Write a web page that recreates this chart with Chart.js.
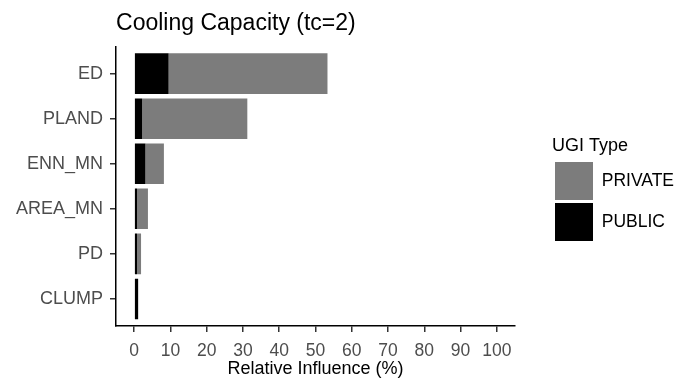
<!DOCTYPE html>
<html>
<head>
<meta charset="utf-8">
<script src="https://cdn.jsdelivr.net/npm/chart.js@4"></script>
<style>
  html, body { margin: 0; padding: 0; background: #ffffff; }
  #wrap { width: 681px; height: 382px; }
</style>
</head>
<body>
<div id="wrap"><canvas id="c" width="681" height="382"></canvas></div>
<script>
// ---- data ----
const categories = ["ED", "PLAND", "ENN_MN", "AREA_MN", "PD", "CLUMP"];
const publicValues = [9.5, 2.2, 3.1, 0.8, 0.8, 1.1];
const privateValues = [43.8, 29.0, 5.1, 3.0, 1.1, 0.0];
const xTickValues = [0, 10, 20, 30, 40, 50, 60, 70, 80, 90, 100];
const seriesNames = ["PUBLIC", "PRIVATE"];
const chartTitle = "Cooling Capacity (tc=2)";
const xAxisTitle = "Relative Influence (%)";
const legendTitle = "UGI Type";

const FONT = "'Liberation Sans', Arial, Helvetica, sans-serif";

const toPoints = vals => vals.map((v, i) => ({ x: v, y: i + 1 }));

new Chart(document.getElementById('c'), {
  type: 'bar',
  data: {
    datasets: [
      { label: seriesNames[0], data: toPoints(publicValues), backgroundColor: '#000000', borderWidth: 0, stack: 's' },
      { label: seriesNames[1], data: toPoints(privateValues), backgroundColor: '#7c7c7c', borderWidth: 0, stack: 's' }
    ]
  },
  options: {
    indexAxis: 'y',
    responsive: false,
    animation: false,
    devicePixelRatio: 1,
    layout: { padding: { left: 9, right: 0, top: 10, bottom: 2 } },
    datasets: { bar: { barPercentage: 0.9, categoryPercentage: 1.0 } },
    scales: {
      x: {
        type: 'linear',
        stacked: true,
        min: -5,
        max: 105,
        afterBuildTicks: s => { s.ticks = xTickValues.map(v => ({ value: v })); },
        grid: { display: true, drawOnChartArea: false, drawTicks: true, tickLength: 6, color: '#333333', lineWidth: 1.5 },
        border: { display: true, color: '#000000', width: 1.5 },
        ticks: { color: '#4d4d4d', font: { family: FONT, size: 17.5 }, padding: 8.5, maxRotation: 0, autoSkip: false },
        title: { display: true, text: xAxisTitle, color: '#000000', font: { family: FONT, size: 18 }, padding: { top: -11.6, bottom: 0 } }
      },
      y: {
        type: 'linear',
        reverse: true,
        offset: false,
        min: 0.4,
        max: 6.6,
        afterBuildTicks: s => { s.ticks = categories.map((c, i) => ({ value: i + 1 })); },
        grid: { display: true, offset: false, drawOnChartArea: false, drawTicks: true, tickLength: 6, color: '#333333', lineWidth: 1.5 },
        border: { display: true, color: '#000000', width: 1.5 },
        ticks: {
          color: '#4d4d4d', font: { family: FONT, size: 18 }, padding: 7, autoSkip: false,
          callback: v => categories[Math.round(v) - 1]
        }
      },
      spacer: {
        type: 'linear',
        position: 'right',
        display: true,
        grid: { display: false },
        border: { display: false },
        ticks: { display: false },
        afterFit: s => { s.width = 37; }
      }
    },
    plugins: {
      title: {
        display: true, text: chartTitle, align: 'start', fullSize: false,
        color: '#000000', font: { family: FONT, size: 23, weight: 'normal' },
        padding: { top: 0, bottom: 9 }
      },
      legend: {
        display: true, position: 'right', reverse: true, maxWidth: 129,
        title: { display: true, text: legendTitle, position: 'start', color: '#000000', font: { family: FONT, size: 18 }, padding: { top: -9, bottom: 0.4 } },
        labels: { boxWidth: 38, boxHeight: 38, padding: 3, color: '#000000', font: { family: FONT, size: 17.5 } }
      },
      tooltip: { enabled: false }
    }
  }
});
</script>
</body>
</html>
